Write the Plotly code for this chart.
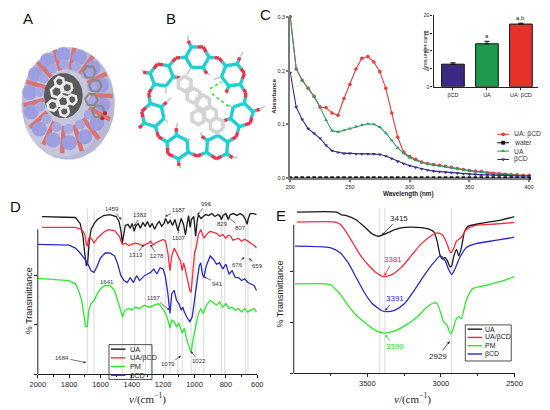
import numpy as np
import plotly.graph_objects as go

W, H = 550, 410
FONT = "Liberation Sans"


def fx(x):
    return x / W


def fy(y):
    return 1 - y / H


# ---------------- Panel C : UV absorbance ----------------
wavelength = [200, 205, 210, 215, 220, 225, 230, 235, 240, 245, 250, 255, 260, 265, 270,
              275, 280, 285, 290, 295, 300, 305, 310, 315, 320, 325, 330, 335, 340, 345,
              350, 355, 360, 365, 370, 375, 380, 385, 390, 395, 400]
abs_ua_bcd = [0.300, 0.203, 0.182, 0.167, 0.152, 0.132, 0.131, 0.121, 0.117, 0.148, 0.174,
              0.203, 0.223, 0.226, 0.216, 0.198, 0.167, 0.121, 0.076, 0.048, 0.040, 0.035,
              0.030, 0.027, 0.025, 0.024, 0.022, 0.020, 0.018, 0.016, 0.014, 0.013, 0.012,
              0.010, 0.009, 0.008, 0.007, 0.006, 0.006, 0.005, 0.005]
abs_water = [0.0, 0.0, 0.0, 0.0, 0.0, 0.0, 0.0, 0.0, 0.0, 0.0, 0.0, 0.0, 0.0, 0.0, 0.0,
             0.0, 0.0, 0.0, 0.0, 0.0, 0.0, 0.0, 0.0, 0.0, 0.0, 0.0, 0.0, 0.0, 0.0, 0.0,
             0.0, 0.0, 0.0, 0.0, 0.0, 0.0, 0.0, 0.0, 0.0, 0.0, 0.0]
abs_ua = [0.300, 0.203, 0.182, 0.167, 0.152, 0.132, 0.108, 0.088, 0.086, 0.089, 0.092,
          0.096, 0.099, 0.101, 0.100, 0.095, 0.084, 0.070, 0.056, 0.046, 0.038, 0.033,
          0.029, 0.026, 0.024, 0.023, 0.021, 0.019, 0.017, 0.015, 0.013, 0.012, 0.011,
          0.009, 0.008, 0.007, 0.007, 0.006, 0.005, 0.005, 0.004]
abs_bcd = [0.196, 0.132, 0.109, 0.092, 0.083, 0.074, 0.061, 0.051, 0.048, 0.046, 0.046,
           0.045, 0.045, 0.045, 0.045, 0.044, 0.041, 0.036, 0.031, 0.027, 0.023, 0.020,
           0.017, 0.015, 0.013, 0.012, 0.011, 0.010, 0.009, 0.008, 0.007, 0.007, 0.006,
           0.006, 0.005, 0.005, 0.005, 0.004, 0.004, 0.004, 0.004]
c_names = ["UA: βCD", "water", "UA", "βCD"]
c_colors = ["#f03a3a", "#111111", "#2f9d66", "#3b2b8a"]
c_symbols = ["circle", "square", "triangle-up", "triangle-down"]

# inset bar chart
auc_cats = ["βCD", "UA", "UA: βCD"]
auc_vals = [6.3, 12.0, 17.5]
auc_err = [0.4, 0.7, 0.25]
auc_sig = ["", "a", "a,b"]
auc_colors = ["#3a2a84", "#1d9a4c", "#e8312b"]

# ---------------- Panel D : FTIR 2000-600 ----------------
d_ua_wn = [1973, 1800, 1760, 1730, 1712, 1700, 1690, 1682, 1672, 1660, 1640, 1620, 1580, 1540,
           1500, 1482, 1470, 1461, 1452, 1442, 1425, 1410, 1398, 1385, 1375, 1360, 1345, 1330,
           1315, 1300, 1285, 1270, 1255, 1240, 1225, 1210, 1195, 1185, 1170, 1155, 1140, 1125,
           1107, 1095, 1085, 1070, 1058, 1048, 1038, 1028, 1020, 1005, 993, 983, 975, 960, 945,
           930, 910, 890, 870, 850, 835, 828, 818, 800, 786, 772, 750, 730, 710, 690, 675, 665,
           657, 645, 625, 605]
d_ua_t = [160, 159.7, 159, 153, 140, 122, 110, 113, 135, 147, 153, 157, 161, 162,
          160, 155, 146, 133, 142, 151, 152, 148, 153, 145, 150, 153, 148, 154,
          150, 155, 149, 153, 147, 152, 155, 150, 153, 158, 153, 156, 151, 157,
          146, 153, 158, 152, 141, 152, 161, 149, 157, 160, 140, 155, 162, 158, 160,
          162, 161, 163, 160, 162, 160, 157, 161, 163, 157, 162, 163, 161, 163, 161, 157, 152,
          158, 163, 163, 162]
d_uab_wn = [1973, 1760, 1720, 1700, 1690, 1684, 1675, 1660, 1641, 1620, 1580, 1550, 1510, 1480,
            1465, 1459, 1440, 1420, 1400, 1380, 1350, 1330, 1313, 1295, 1280, 1265, 1250, 1235,
            1220, 1200, 1185, 1170, 1157, 1145, 1130, 1115, 1100, 1090, 1079, 1070, 1060, 1045,
            1030, 1022, 1010, 1000, 990, 975, 960, 950, 940, 925, 900, 880, 860, 840, 820, 800,
            785, 770, 755, 740, 720, 700, 680, 660, 645, 630, 615, 605]
d_uab_t = [149, 149, 146.7, 141.7, 131.7, 130, 138, 138, 133, 138, 144, 146.7, 145.7, 140,
           133.3, 131.7, 133, 130.5, 131.7, 133, 132, 130, 131.7, 133, 135, 131, 133, 134,
           135, 136.7, 135, 123, 105, 120, 128, 123, 118, 115, 105, 113, 106.7, 95,
           85, 83, 101.7, 123, 128, 141.7, 146.7, 141.7, 138, 141.7, 145, 144, 143, 140, 141.7, 138,
           141, 140, 136, 136.7, 138, 135, 137, 135, 133, 131.7, 130, 128]
d_pm_wn = [2000, 1800, 1760, 1740, 1720, 1705, 1695, 1684, 1675, 1660, 1640, 1620, 1600, 1570,
           1540, 1510, 1490, 1470, 1459, 1445, 1420, 1400, 1380, 1350, 1320, 1290, 1260, 1230,
           1210, 1185, 1170, 1157, 1145, 1130, 1115, 1100, 1079, 1065, 1050, 1030, 1022, 1010,
           1000, 990, 975, 960, 945, 925, 900, 885, 860, 840, 820, 800, 780, 760, 740, 720, 700,
           680, 660, 640, 620, 605]
d_pm_t = [97.3, 95, 91.7, 85, 75, 58, 48.3, 48.3, 65, 71.7, 75, 81.7, 86.7, 90,
          90, 85, 75, 63, 58, 65, 66.7, 65, 68, 66.7, 70, 68, 70, 71.7,
          68, 61.7, 55, 46.7, 55, 53.3, 48.3, 51.7, 41.7, 46.7, 35, 25, 21.7, 35,
          41.7, 48.3, 61.7, 66.7, 61.7, 70, 75, 73.3, 70, 73.3, 68, 71.7, 66.7, 68, 65, 66.7, 63,
          66.7, 63, 65, 66.7, 63]
d_bcd_wn = [2000, 1800, 1760, 1730, 1700, 1680, 1660, 1641, 1620, 1600, 1570, 1540, 1510, 1490,
            1470, 1450, 1430, 1410, 1390, 1370, 1350, 1320, 1300, 1280, 1260, 1240, 1220, 1200,
            1185, 1170, 1157, 1145, 1130, 1115, 1100, 1085, 1075, 1065, 1050, 1030, 1015, 1000,
            985, 970, 960, 950, 941, 925, 900, 880, 860, 840, 820, 800, 780, 760, 740, 720, 700,
            680, 660, 640, 620, 605]
d_bcd_t = [131.7, 131, 128, 123, 116.7, 111.7, 105, 103.3, 110, 118, 123, 123, 120, 111.7,
           100, 95, 93, 98, 93, 100, 95, 100, 101.7, 103.3, 106.7, 101.7, 108, 106.7,
           98, 81.7, 61.7, 81.7, 85, 75, 71.7, 65, 68, 63, 58, 53.3, 58, 75,
           95, 110, 113, 101.7, 98, 110, 120, 116.7, 111.7, 113, 106.7, 111.7, 101.7, 105, 98, 98, 95,
           96.7, 93, 91.7, 90, 85]
d_peak_lines = [1684, 1641, 1459, 1382, 1313, 1278, 1187, 1157, 1107, 1079, 1022, 996, 941,
                829, 807, 676, 659]
d_ann_text = ["1459", "1382", "1187", "996", "1107", "829", "807", "1313", "1278", "676", "659",
              "1641", "941", "1157", "1684", "1079", "1022"]
d_ann_wn = [1467, 1385, 1188, 982, 1102, 844, 802, 1323, 1281, 683, 652, 1649, 941, 1160, 1692,
            1086, 1024]
d_ann_h = [156.7, 150, 160, 161.7, 148.4, 162.4, 161.7, 131.7, 131.7, 119, 117.7, 103.4, 99,
           65, 11.7, 18.4, 23.4]
d_ann_dx = [-9, 6, 14, 9, 0, 4, 15, -8, 7, -7, 8, 14, 14, -15, -24, -13, 8]
d_ann_dy = [-11, -11, -7, -11, 10, 10, 13, 11, 12, 8, 8, 10, 7, -12, -5, 8, 10]

# ---------------- Panel E : FTIR 4000-2500 ----------------
e_ua_wn = [3978, 3709, 3676, 3643, 3577, 3511, 3467, 3423, 3379, 3313, 3247, 3159, 3093, 3048,
           3026, 3004, 2987, 2971, 2956, 2938, 2927, 2912, 2894, 2879, 2861, 2839, 2817, 2718,
           2586, 2500]
e_ua_t = [163.7, 163.7, 161, 160.3, 156, 147.7, 141.7, 139.3, 141.7, 146, 148.3, 148.3, 147,
          143.7, 134.3, 119.3, 116, 117.7, 114.3, 108.3, 109.3, 119.3, 126, 119.3, 127.7, 144.3,
          149.3, 152.7, 156, 159.3]
e_uab_wn = [3978, 3720, 3687, 3654, 3599, 3544, 3489, 3434, 3390, 3335, 3269, 3203, 3137, 3071,
            3026, 2993, 2971, 2949, 2934, 2916, 2894, 2861, 2828, 2762, 2630, 2500]
e_uab_t = [153.7, 153.7, 151.7, 146, 132.7, 119.3, 109.3, 101.7, 98.3, 100.3, 107.7, 119.3,
           131, 139.3, 142.7, 141, 136, 127.7, 122.7, 126, 134.3, 138.3, 146, 150.3, 151.7, 153.3]
e_pm_wn = [3991, 3753, 3720, 3687, 3632, 3577, 3511, 3445, 3390, 3324, 3247, 3159, 3093, 3048,
           3026, 3004, 2982, 2960, 2943, 2932, 2916, 2894, 2877, 2861, 2828, 2784, 2696, 2586,
           2500]
e_pm_t = [91, 90.3, 86, 81, 69.3, 59.3, 51, 43.7, 41, 42.7, 48.3, 57.7, 67.7, 71.7, 71, 62.7,
          52.7, 49.3, 42.7, 40.3, 46, 56, 57.7, 56, 74.3, 86, 89.3, 93.7, 98.3]
e_bcd_wn = [3991, 3753, 3687, 3632, 3577, 3522, 3467, 3401, 3368, 3313, 3247, 3181, 3115, 3048,
            3004, 2971, 2949, 2927, 2905, 2872, 2828, 2762, 2630, 2500]
e_bcd_t = [129.3, 127.7, 122.7, 112.7, 97.7, 82.7, 71, 63.7, 62.7, 64.3, 71, 84.3, 99.3, 112.7,
           119.3, 114.3, 106, 100.3, 106, 117.7, 127.7, 131.7, 135, 138.3]
e_peak_lines = [3415, 3381, 2929]
e_ann_text = ["3415", "3381", "3391", "3399", "2929"]
e_ann_wn = [3402, 3384, 3380, 3380, 2940]
e_ann_h = [140.3, 99.3, 63.7, 39.3, 32.7]
e_ann_dx = [17, 9, 10, 10, -12]
e_ann_dy = [-17, -16, -12, 12, 15]
e_ann_col = ["#222222", "#ff2a3a", "#2a2acc", "#22dd22", "#222222"]

ir_names = ["UA", "UA/βCD", "PM", "βCD"]
ir_colors = ["#1a1a1a", "#ff2a3a", "#2bea2b", "#2a2acc"]

fig = go.Figure()

# ---- C main
c_series = [abs_ua_bcd, abs_water, abs_ua, abs_bcd]
for vals, name, col, sym in zip(c_series, c_names, c_colors, c_symbols):
    fig.add_trace(go.Scatter(x=wavelength, y=vals, mode="lines+markers", name=name,
                             line=dict(color=col, width=1.1),
                             marker=dict(color=col, size=3.6, symbol=sym),
                             cliponaxis=False, xaxis="x", yaxis="y", showlegend=False))

# ---- C inset
fig.add_trace(go.Bar(x=[0, 1, 2], y=auc_vals, width=0.667,
                     marker=dict(color=auc_colors, line=dict(color="#111", width=1)),
                     error_y=dict(type="data", symmetric=False, array=auc_err,
                                  arrayminus=[0, 0, 0], color="#111", thickness=1, width=2.5),
                     xaxis="x2", yaxis="y2", showlegend=False))


# ---- D
def vlines(vals, top):
    xs, ys = [], []
    for v in vals:
        xs += [v, v, None]
        ys += [0, top, None]
    return xs, ys


vx, vy = vlines(d_peak_lines, 168)
fig.add_trace(go.Scatter(x=vx, y=vy, mode="lines", line=dict(color="#c8c8c8", width=0.7),
                         xaxis="x3", yaxis="y3", showlegend=False, hoverinfo="skip"))
for wn, tt, col in zip([d_ua_wn, d_uab_wn, d_pm_wn, d_bcd_wn], [d_ua_t, d_uab_t, d_pm_t, d_bcd_t],
                       ir_colors):
    fig.add_trace(go.Scatter(x=wn, y=tt, mode="lines", line=dict(color=col, width=1.3),
                             xaxis="x3", yaxis="y3", showlegend=False, cliponaxis=False))

# ---- E
vx, vy = vlines(e_peak_lines, 168)
fig.add_trace(go.Scatter(x=vx, y=vy, mode="lines", line=dict(color="#c8c8c8", width=0.7),
                         xaxis="x4", yaxis="y4", showlegend=False, hoverinfo="skip"))
for wn, tt, col in zip([e_ua_wn, e_uab_wn, e_pm_wn, e_bcd_wn], [e_ua_t, e_uab_t, e_pm_t, e_bcd_t],
                       ir_colors):
    fig.add_trace(go.Scatter(x=wn, y=tt, mode="lines", line=dict(color=col, width=1.3,
                                                                shape="spline", smoothing=0.6),
                             xaxis="x4", yaxis="y4", showlegend=False, cliponaxis=False))


# ---------------- Illustrations (A, B) on pixel overlay axis ----------------
def add_ov(**kw):
    fig.add_trace(go.Scatter(xaxis="x5", yaxis="y5", showlegend=False, hoverinfo="skip", **kw))


t = np.linspace(0, 2 * np.pi, 90)


def ell(cx, cy, rx, ry):
    return list(cx + rx * np.cos(t)), list(cy + ry * np.sin(t))


def hexpts(cx, cy, r, rot):
    a = rot + np.arange(7) * np.pi / 3
    return list(cx + r * np.cos(a)), list(cy + r * np.sin(a))


def segs_to_xy(segs):
    xs, ys = [], []
    for (x0, y0, x1, y1) in segs:
        xs += [x0, x1, None]
        ys += [y0, y1, None]
    return xs, ys


def lerp(p, q, f):
    return (p[0] + (q[0] - p[0]) * f, p[1] + (q[1] - p[1]) * f)


# A: surface view of the complex
ex, ey = ell(62, 102, 48, 57)
add_ov(x=ex, y=ey, mode="lines", fill="toself", fillcolor="#b7b9d6", line=dict(width=0))
ex, ey = ell(57, 112, 40, 44)
add_ov(x=ex, y=ey, mode="lines", fill="toself", fillcolor="#c6c7dc", line=dict(width=0))
nb = 14
ang = np.deg2rad(np.arange(nb) * 360 / nb + 8)
angh = ang + np.pi / nb
rs = []
for a in angh:
    rs.append((61 + 24 * np.cos(a), 96 + 29 * np.sin(a), 62 + 46 * np.cos(a), 99 + 54 * np.sin(a)))
rx_, ry_ = segs_to_xy(rs)
add_ov(x=rx_, y=ry_, mode="lines", line=dict(color="#d97474", width=4.5))
add_ov(x=list(60 + 38 * np.cos(ang)), y=list(97 + 45 * np.sin(ang)), mode="markers",
       marker=dict(size=15, color="#9c9ee0", line=dict(width=0)))
add_ov(x=list(60 + 28 * np.cos(ang)), y=list(95 + 33 * np.sin(ang)), mode="markers",
       marker=dict(size=10, color="#a6a8e4", line=dict(width=0)))
ex, ey = ell(57, 94, 20, 23)
add_ov(x=ex, y=ey, mode="lines", fill="toself", fillcolor="#5a5a5a", line=dict(width=0))
gx, gy = [], []
for (cx, cy, r) in [(50, 90, 6), (57, 100, 6), (46, 104, 5.5), (61, 86, 5.5), (66, 98, 5),
                    (53, 80, 5), (58, 110, 5)]:
    hx, hy = hexpts(cx, cy, r, 0.3)
    gx += hx + [None]
    gy += hy + [None]
add_ov(x=gx, y=gy, mode="lines", line=dict(color="#ececec", width=2.6))
gx, gy = [], []
for (cx, cy) in [(84, 70), (90, 84), (86, 98), (93, 110)]:
    hx, hy = hexpts(cx, cy, 6.5, 0.1)
    gx += hx + [None]
    gy += hy + [None]
add_ov(x=gx, y=gy, mode="lines", line=dict(color="#8a8a8a", width=2.2))
add_ov(x=[100, 97], y=[112, 117], mode="markers", marker=dict(size=4, color="#d42020"))

# B: stick model of the βCD ring with the guest
n_units = 7
R_x, R_y, r_hex = 47, 48, 12
bcx, bcy = 195, 103
units = []
for k in range(n_units):
    th = np.pi / 2 + k * 2 * np.pi / n_units
    cx = bcx + R_x * np.cos(th)
    cy = bcy - R_y * np.sin(th)
    hx, hy = hexpts(cx, cy, r_hex, -th + np.pi / 6)
    units.append(((cx, cy), list(zip(hx[:6], hy[:6]))))
cyan, red, hcol = [], [], []
links = {}
for k in range(n_units):
    (c1, v1), (c2, v2) = units[k], units[(k + 1) % n_units]
    best = None
    for i, p in enumerate(v1):
        for j, q in enumerate(v2):
            d = (p[0] - q[0]) ** 2 + (p[1] - q[1]) ** 2
            if best is None or d < best[0]:
                best = (d, i, j)
    _, i, j = best
    p, q = v1[i], v2[j]
    o = lerp(p, q, 0.5)
    o = (o[0] + (o[0] - bcx) * 0.08, o[1] + (o[1] - bcy) * 0.08)
    for a in (p, q):
        m = lerp(a, o, 0.55)
        cyan.append((a[0], a[1], m[0], m[1]))
        red.append((m[0], m[1], o[0], o[1]))
    links.setdefault(k, []).append(i)
    links.setdefault((k + 1) % n_units, []).append(j)
for k, ((cx, cy), v) in enumerate(units):
    used = links.get(k, [])
    ring_o = [i for i in range(6) if i not in used][0]
    for j in range(6):
        a, b = v[j], v[(j + 1) % 6]
        if j == ring_o:
            m = lerp(a, b, 0.5)
            red.append((a[0], a[1], m[0], m[1]))
            cyan.append((m[0], m[1], b[0], b[1]))
        elif (j + 1) % 6 == ring_o:
            m = lerp(a, b, 0.5)
            cyan.append((a[0], a[1], m[0], m[1]))
            red.append((m[0], m[1], b[0], b[1]))
        else:
            cyan.append((a[0], a[1], b[0], b[1]))
    free = [i for i in range(6) if i not in used and i != ring_o]
    for n_i, i in enumerate(free):
        a = v[i]
        dx, dy = a[0] - cx, a[1] - cy
        if n_i % 2 == 0:
            e = (a[0] + 0.6 * dx, a[1] + 0.6 * dy)
            m = lerp(a, e, 0.5)
            cyan.append((a[0], a[1], m[0], m[1]))
            red.append((m[0], m[1], e[0], e[1]))
            hcol.append((e[0], e[1], e[0] + 0.3 * dx + 2, e[1] + 0.3 * dy - 2))
        else:
            hcol.append((a[0], a[1], a[0] + 0.5 * dx - 2, a[1] + 0.5 * dy + 2))
hx_, hy_ = segs_to_xy(hcol)
add_ov(x=hx_, y=hy_, mode="lines", line=dict(color="#c8c8c8", width=1.6))
cx_, cy_ = segs_to_xy(cyan)
add_ov(x=cx_, y=cy_, mode="lines", line=dict(color="#1fd0d0", width=3.4))
rx_, ry_ = segs_to_xy(red)
add_ov(x=rx_, y=ry_, mode="lines", line=dict(color="#e8344e", width=3.4))
gx, gy = [], []
for (cx, cy) in [(182, 82), (191, 94), (201, 101), (208, 113), (215, 124), (196, 116)]:
    hx, hy = hexpts(cx, cy, 7.5, 0.5)
    gx += hx + [None]
    gy += hy + [None]
add_ov(x=gx, y=gy, mode="lines", line=dict(color="#d4d4d4", width=3.6))
add_ov(x=[208, 220, None, 210, 230], y=[87, 80, None, 92, 107], mode="lines",
       line=dict(color="#22ee22", width=1.6, dash="dot"))

# ---------------- C legend keys (overlay) ----------------
leg_c_x, leg_c_y0, leg_c_dy = 510, 133.3, 8.5
for i, (col, sym) in enumerate(zip(c_colors, c_symbols)):
    yy = leg_c_y0 + i * leg_c_dy
    add_ov(x=[leg_c_x - 6, leg_c_x + 6], y=[yy, yy], mode="lines", line=dict(color=col, width=1.1))
    add_ov(x=[leg_c_x], y=[yy], mode="markers", marker=dict(color=col, size=3.8, symbol=sym))

# ---------------- annotations ----------------
ann = []


def txt(x, y, s, size=7, color="#222", xanchor="center", yanchor="middle", angle=0,
        family=FONT):
    ann.append(dict(x=fx(x), y=fy(y), xref="paper", yref="paper", text=s, showarrow=False,
                    font=dict(size=size, color=color, family=family), xanchor=xanchor,
                    yanchor=yanchor, textangle=angle))


for s, x, y in [("A", 20.7, 16), ("B", 168, 16), ("C", 265, 12), ("D", 8, 207), ("E", 281, 216)]:
    txt(x, y, s, size=15, color="#111")

txt(274, 95, "<b>Absorbance</b>", size=6, angle=-90)
txt(413, 193.5, "<b>Wavelength (nm)</b>", size=6.3)
txt(429.5, 48, "Area under curve", size=5.2, angle=-90)
for xi, s in zip([0, 1, 2], auc_sig):
    if s:
        ann.append(dict(x=xi, y=auc_vals[xi] + auc_err[xi], xref="x2", yref="y2", text=s,
                        showarrow=False, yanchor="bottom",
                        font=dict(size=6, color="#222", family=FONT)))
for i, nm in enumerate(c_names):
    txt(519, leg_c_y0 + i * leg_c_dy, nm, size=6.8, color="#333", xanchor="left")

txt(21.5, 301.7, "% Transmittance", size=9, angle=-90)
txt(280, 295, "% Transmittance", size=9, angle=-90)
txt(143.5, 401, "<i>v</i>/(cm<sup>−1</sup>)", size=11, family="Liberation Serif")
txt(416.7, 401, "<i>v</i>/(cm<sup>−1</sup>)", size=11, family="Liberation Serif")

for s, x, y, dx, dy in zip(d_ann_text, d_ann_wn, d_ann_h, d_ann_dx, d_ann_dy):
    ann.append(dict(x=x, y=y, xref="x3", yref="y3", text=s, showarrow=True, ax=dx, ay=dy,
                    arrowhead=2, arrowsize=0.7, arrowwidth=0.7, arrowcolor="#333",
                    font=dict(size=6, color="#333", family=FONT)))
for s, x, y, dx, dy, col in zip(e_ann_text, e_ann_wn, e_ann_h, e_ann_dx, e_ann_dy, e_ann_col):
    ann.append(dict(x=x, y=y, xref="x4", yref="y4", text=s, showarrow=True, ax=dx, ay=dy,
                    arrowhead=2, arrowsize=0.7, arrowwidth=0.8, arrowcolor=col,
                    font=dict(size=8, color=col, family=FONT)))

shapes = []


def ir_legend(x0, y0, x1, y1, lx0, lx1, tx, ly0, ldy, size):
    shapes.append(dict(type="rect", xref="paper", yref="paper", x0=fx(x0), x1=fx(x1),
                       y0=fy(y1), y1=fy(y0), line=dict(color="#222", width=0.8),
                       fillcolor="rgba(255,255,255,0)"))
    for i, (nm, col) in enumerate(zip(ir_names, ir_colors)):
        yy = ly0 + i * ldy
        shapes.append(dict(type="line", xref="paper", yref="paper", x0=fx(lx0), x1=fx(lx1),
                           y0=fy(yy), y1=fy(yy), line=dict(color=col, width=1.4)))
        txt(tx, yy, nm, size=size, color="#222", xanchor="left")


ir_legend(104, 346.7, 148.3, 382, 106, 121, 123.5, 351.3, 8.8, 7.3)
ir_legend(471, 326.7, 518.3, 363.3, 473.3, 488.3, 489.5, 331, 8.4, 7)

shapes.append(dict(type="line", xref="x3 domain", yref="y3", x0=0, x1=0, y0=0, y1=147,
                   line=dict(color="#222", width=1)))
shapes.append(dict(type="line", xref="x4 domain", yref="y4", x0=0, x1=0, y0=0, y1=151,
                   line=dict(color="#222", width=1)))

tickf = dict(family=FONT, size=5.5, color="#222")
irf = dict(family=FONT, size=7.5, color="#222")

fig.update_layout(
    width=W, height=H, autosize=False,
    margin=dict(l=0, r=0, t=0, b=0),
    paper_bgcolor="white", plot_bgcolor="rgba(0,0,0,0)",
    font=dict(family=FONT),
    showlegend=False,
    annotations=ann, shapes=shapes,
    xaxis=dict(domain=[fx(290.7), fx(536.7)], range=[200, 400], tickvals=[200, 250, 300, 350, 400],
               ticks="outside", ticklen=2, tickwidth=1.5, tickcolor="#777", showline=True,
               linecolor="#7a7a7a", linewidth=2, showgrid=False, zeroline=False, tickfont=tickf,
               anchor="y"),
    yaxis=dict(domain=[fy(177.7), fy(14)], range=[0, 0.3], tickvals=[0, 0.1, 0.2, 0.3],
               ticktext=["0.0", "0.1", "0.2", "0.3"], ticks="outside", ticklen=2, tickwidth=1.5,
               tickcolor="#777", showline=True, linecolor="#7a7a7a", linewidth=2, showgrid=False,
               zeroline=False, tickfont=tickf, anchor="x"),
    xaxis2=dict(domain=[fx(438.3), fx(545.8)], range=[-0.571, 2.5], tickvals=[0, 1, 2],
                ticktext=auc_cats, ticks="outside", ticklen=2, tickcolor="#222", showline=True,
                linecolor="#222", linewidth=1.3, showgrid=False, zeroline=False,
                tickfont=dict(family=FONT, size=5.5, color="#222"), anchor="y2"),
    yaxis2=dict(domain=[fy(85), fy(12.3)], range=[0, 20], tickvals=[0, 5, 10, 15, 20],
                ticks="outside", ticklen=2, tickcolor="#222", showline=True, linecolor="#222",
                linewidth=1.3, showgrid=False, zeroline=False,
                tickfont=dict(family=FONT, size=5, color="#222"), anchor="x2"),
    xaxis3=dict(domain=[fx(30.7), fx(256.7)], range=[2000, 600],
                tickvals=[2000, 1800, 1600, 1400, 1200, 1000, 800, 600], ticks="outside",
                ticklen=3, tickcolor="#222", showline=True, linecolor="#222", linewidth=1,
                showgrid=False, zeroline=False, tickfont=irf, anchor="y3",
                minor=dict(tickvals=[1900, 1700, 1500, 1300, 1100, 900, 700], ticks="outside",
                           ticklen=1.5, tickcolor="#222")),
    yaxis3=dict(domain=[fy(376.7), fy(206.7)], range=[0, 170], tickvals=[0, 50, 100],
                ticks="outside", ticklen=3, tickcolor="#222", showticklabels=False,
                showline=False, showgrid=False, zeroline=False, anchor="x3"),
    xaxis4=dict(domain=[fx(294.3), fx(521.7)], range=[4000, 2500], tickvals=[3500, 3000, 2500],
                ticks="outside", ticklen=3, tickcolor="#222", showline=True, linecolor="#222",
                linewidth=1, showgrid=False, zeroline=False, tickfont=irf, anchor="y4",
                minor=dict(tickvals=[3750, 3250, 2750], ticks="outside", ticklen=1.5,
                           tickcolor="#222")),
    yaxis4=dict(domain=[fy(376), fy(206)], range=[0, 170], tickvals=[0, 51.7, 103.3],
                ticks="outside", ticklen=3, tickcolor="#222", showticklabels=False,
                showline=False, showgrid=False, zeroline=False, anchor="x4"),
    xaxis5=dict(domain=[0, 1], range=[0, W], visible=False, anchor="y5", fixedrange=True),
    yaxis5=dict(domain=[0, 1], range=[H, 0], visible=False, anchor="x5", fixedrange=True),
)

fig.write_html("out.html", config={"displayModeBar": False},
               post_script="document.body.style.margin='0';document.body.style.padding='0';"
                           "document.body.style.overflow='hidden';")
